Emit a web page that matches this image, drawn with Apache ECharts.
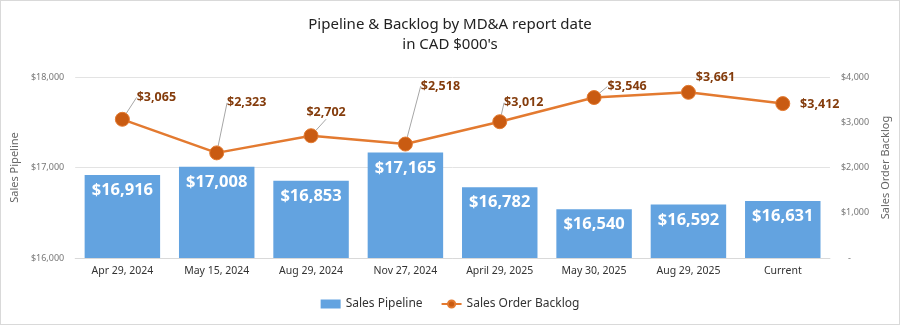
<!DOCTYPE html>
<html><head><meta charset="utf-8">
<script src="https://cdn.jsdelivr.net/npm/echarts@6/dist/echarts.min.js"></script>
<style>html,body{margin:0;padding:0;background:#fff}#c{width:898px;height:323px;border:1px solid #d9d9d9}</style>
</head><body><div id="c"></div>
<script>
const categories = ['Apr 29, 2024','May 15, 2024','Aug 29, 2024','Nov 27, 2024','April 29, 2025','May 30, 2025','Aug 29, 2025','Current'];
const salesPipeline = [16916,17008,16853,17165,16782,16540,16592,16631];
const salesOrderBacklog = [3065,2323,2702,2518,3012,3546,3661,3412];
// label placement offsets (style)
const labelDx = [34,30,15,35,24,33,27,37];
const labelDy = [-22,-50,-23,-58,-19,-11,-15,1];
const showLeader = [true,true,true,true,true,true,false,false];

const fmt = v => '$' + v.toLocaleString('en-US');
const FONT = '"Noto Sans", sans-serif';
const chart = echarts.init(document.getElementById('c'));
chart.setOption({
  animation:false,
  textStyle:{fontFamily:FONT},
  title:{text:'Pipeline & Backlog by MD&A report date\nin CAD $000\'s',left:'center',top:9,
    textStyle:{fontFamily:FONT,fontSize:15,fontWeight:'normal',color:'#222',lineHeight:20}},
  legend:{bottom:9,left:'center',itemGap:18,itemWidth:20,itemHeight:9,
    textStyle:{fontFamily:FONT,fontSize:12,color:'#333'},
    data:[{name:'Sales Pipeline',icon:'rect'},{name:'Sales Order Backlog'}]},
  grid:{left:69,right:62,top:76,bottom:66},
  xAxis:{type:'category',data:categories,axisTick:{show:false},
    axisLine:{lineStyle:{color:'#d9d9d9'}},
    axisLabel:{color:'#333',fontSize:10.5,margin:8}},
  yAxis:[
    {type:'value',min:16000,max:18000,interval:1000,name:'Sales Pipeline',nameLocation:'middle',nameGap:50,
     nameTextStyle:{color:'#666',fontSize:11},
     axisLabel:{formatter:v=>fmt(v),color:'#777',fontSize:9,margin:11},
     splitLine:{lineStyle:{color:'#e3e3e3'}},axisLine:{show:false},axisTick:{show:false}},
    {type:'value',min:0,max:4000,interval:1000,name:'Sales Order Backlog',nameLocation:'middle',nameGap:48,
     nameTextStyle:{color:'#666',fontSize:11},
     axisLabel:{formatter:v=>v===0?'   -   ':fmt(v),color:'#777',fontSize:9,margin:11},
     splitLine:{show:false},axisLine:{show:false},axisTick:{show:false}}
  ],
  series:[
    {name:'Sales Pipeline',type:'bar',data:salesPipeline,barCategoryGap:'20%',
     itemStyle:{color:'#63a3e0'},
     label:{show:true,position:'insideTop',distance:7,formatter:p=>fmt(p.value),color:'#fff',fontSize:16.5,fontWeight:'bold',fontFamily:FONT}},
    {name:'Sales Order Backlog',type:'line',yAxisIndex:1,data:salesOrderBacklog.map((v,i)=>({value:v,labelLine:{show:showLeader[i]}})),
     symbol:'circle',symbolSize:14,
     lineStyle:{color:'#e37a30',width:2.5},
     itemStyle:{color:'#c95b12',borderColor:'#e37a30',borderWidth:1},
     label:{show:true,position:'inside',formatter:p=>fmt(p.value),color:'#843c0c',fontSize:12.5,fontWeight:'bold',fontFamily:FONT},
     labelLine:{show:true,lineStyle:{color:'#a6a6a6',width:1}},
     labelLayout:p=>({dx:labelDx[p.dataIndex],dy:labelDy[p.dataIndex]})}
  ]
});
</script></body></html>
